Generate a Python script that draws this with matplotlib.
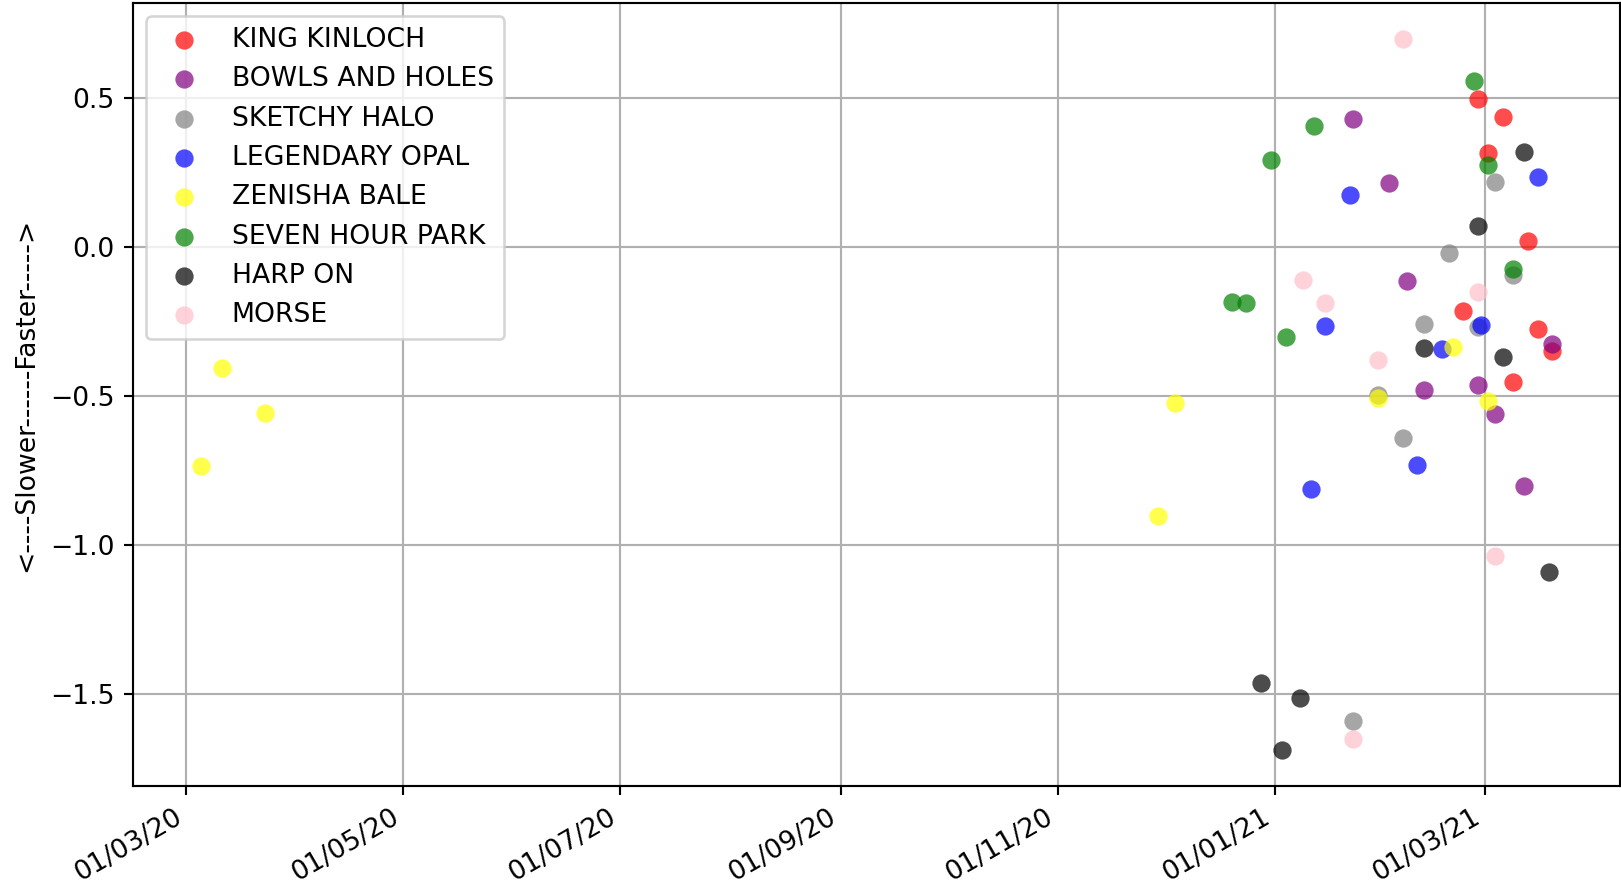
import matplotlib
matplotlib.use("Agg")
import matplotlib.pyplot as plt
import matplotlib.dates as mdates
import pandas as pd

names = ["KING KINLOCH", "BOWLS AND HOLES", "SKETCHY HALO", "LEGENDARY OPAL",
         "ZENISHA BALE", "SEVEN HOUR PARK", "HARP ON", "MORSE"]
colors = ["red", "purple", "gray", "blue", "yellow", "green", "black", "pink"]

king_dates = ["2021-02-27", "2021-03-06", "2021-03-02", "2021-03-13", "2021-02-23", "2021-03-16", "2021-03-20", "2021-03-09"]
king_vals = [0.497, 0.436, 0.316, 0.021, -0.214, -0.274, -0.348, -0.454]

bowls_dates = ["2021-01-23", "2021-02-02", "2021-02-07", "2021-02-12", "2021-02-27", "2021-03-04", "2021-03-12", "2021-03-20"]
bowls_vals = [0.430, 0.216, -0.112, -0.479, -0.463, -0.559, -0.800, -0.324]

sketchy_dates = ["2021-03-04", "2021-02-19", "2021-03-09", "2021-02-12", "2021-02-27", "2021-01-30", "2021-02-06", "2021-01-23"]
sketchy_vals = [0.220, -0.019, -0.094, -0.258, -0.268, -0.496, -0.639, -1.590]

opal_dates = ["2021-03-16", "2021-01-22", "2021-01-15", "2021-02-28", "2021-02-17", "2021-02-10", "2021-01-11"]
opal_vals = [0.236, 0.175, -0.264, -0.262, -0.342, -0.732, -0.810]

zenisha_dates = ["2020-03-05", "2020-03-11", "2020-03-23", "2020-11-29", "2020-12-04", "2021-01-30", "2021-02-20", "2021-03-02"]
zenisha_vals = [-0.734, -0.405, -0.558, -0.902, -0.524, -0.506, -0.335, -0.515]

seven_dates = ["2021-02-26", "2021-01-12", "2020-12-31", "2021-03-02", "2021-03-09", "2020-12-20", "2020-12-24", "2021-01-04"]
seven_vals = [0.556, 0.406, 0.292, 0.276, -0.072, -0.183, -0.188, -0.300]

harp_dates = ["2021-03-12", "2021-02-27", "2021-02-12", "2021-03-06", "2021-03-19", "2020-12-28", "2021-01-08", "2021-01-03"]
harp_vals = [0.320, 0.070, -0.340, -0.369, -1.090, -1.463, -1.513, -1.689]

morse_dates = ["2021-02-06", "2021-01-09", "2021-02-27", "2021-01-15", "2021-01-30", "2021-03-04", "2021-01-23"]
morse_vals = [0.700, -0.109, -0.150, -0.189, -0.379, -1.038, -1.650]

series = [(king_dates, king_vals), (bowls_dates, bowls_vals), (sketchy_dates, sketchy_vals),
          (opal_dates, opal_vals), (zenisha_dates, zenisha_vals), (seven_dates, seven_vals),
          (harp_dates, harp_vals), (morse_dates, morse_vals)]

DPI = 192
fig = plt.figure(figsize=(1621 / DPI, 890 / DPI), dpi=DPI)
ax = fig.add_axes([133 / 1621, 1 - 786 / 890, (1620 - 133) / 1621, (786 - 3) / 890])

for name, col, (d, v) in zip(names, colors, series):
    ax.scatter(pd.to_datetime(d), v, c=col, alpha=0.7, s=47, linewidths=0, label=name)

ax.xaxis.set_major_locator(mdates.MonthLocator(bymonth=[1, 3, 5, 7, 9, 11]))
ax.xaxis.set_major_formatter(mdates.DateFormatter("%d/%m/%y"))
for lbl in ax.get_xticklabels():
    lbl.set_rotation(30)
    lbl.set_ha("right")
ax.grid(True, color="#b0b0b0", linewidth=0.8)
ax.set_axisbelow(True)
ax.set_ylabel("<----Slower------Faster----->")
ax.legend(loc="upper left")

fig.savefig("out.png", dpi=DPI)
